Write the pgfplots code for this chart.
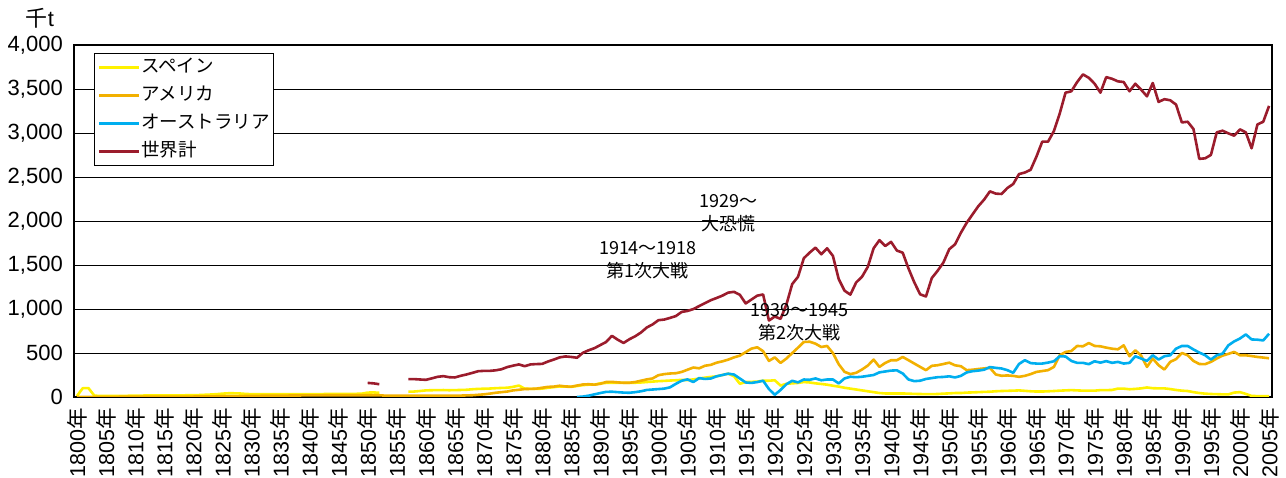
\documentclass[border=0pt]{standalone}
\usepackage{fontspec}
\setmainfont{Liberation Sans}
\newfontfamily\jp{Noto Sans CJK JP}
\usepackage{pgfplots}
\usepackage{pgfplotstable}
\pgfplotsset{compat=1.18}

\definecolor{cSpain}{RGB}{255,242,0}
\definecolor{cUSA}{RGB}{242,176,0}
\definecolor{cAus}{RGB}{0,174,239}
\definecolor{cWorld}{RGB}{155,28,44}

% lead production, thousand tonnes
\pgfplotstableread{
year spain usa aus world
1800 10 2 nan nan
1801 100 2 nan nan
1802 100 2 nan nan
1803 15 2 nan nan
1804 12 2 nan nan
1805 12 2 nan nan
1806 12 2 nan nan
1807 12 2 nan nan
1808 12 3 nan nan
1809 14 3 nan nan
1810 15 3 nan nan
1811 16 3 nan nan
1812 17 3 nan nan
1813 18 3 nan nan
1814 18 3 nan nan
1815 18 4 nan nan
1816 18 4 nan nan
1817 18 4 nan nan
1818 18 4 nan nan
1819 20 5 nan nan
1820 20 5 nan nan
1821 22 6 nan nan
1822 25 6 nan nan
1823 28 7 nan nan
1824 32 8 nan nan
1825 38 8 nan nan
1826 42 9 nan nan
1827 42 10 nan nan
1828 40 10 nan nan
1829 35 11 nan nan
1830 32 12 nan nan
1831 31 13 nan nan
1832 31 14 nan nan
1833 32 15 nan nan
1834 32 15 nan nan
1835 32 16 nan nan
1836 33 16 nan nan
1837 33 17 nan nan
1838 33 17 nan nan
1839 33 18 nan nan
1840 33 18 nan nan
1841 33 19 nan nan
1842 33 19 nan nan
1843 34 20 nan nan
1844 34 20 nan nan
1845 34 20 nan nan
1846 34 20 nan nan
1847 35 20 nan nan
1848 36 20 nan nan
1849 38 20 nan nan
1850 50 20 nan 160
1851 52 20 nan 155
1852 48 20 nan 145
1853 nan 15 nan nan
1854 nan 15 nan nan
1855 nan 15 nan nan
1856 nan 15 nan nan
1857 60 15 nan 203
1858 62 15 nan 203
1859 68 15 nan 199
1860 75 15 nan 195
1861 77 15 nan 211
1862 78 15 nan 229
1863 79 15 nan 237
1864 77 15 nan 225
1865 78 15 nan 222
1866 80 16 nan 241
1867 82 18 nan 256
1868 88 20 nan 274
1869 92 25 nan 293
1870 94 30 nan 297
1871 96 38 nan 297
1872 100 48 nan 303
1873 103 55 nan 315
1874 105 62 nan 340
1875 115 75 nan 356
1876 130 82 nan 370
1877 95 90 nan 350
1878 92 92 nan 370
1879 92 95 nan 374
1880 95 105 nan 376
1881 105 115 nan 403
1882 112 118 nan 425
1883 120 128 nan 450
1884 118 120 nan 461
1885 115 117 nan 455
1886 125 130 0 446
1887 135 142 5 502
1888 140 145 15 531
1889 140 140 30 555
1890 155 150 45 590
1891 160 170 58 625
1892 160 172 60 695
1893 160 166 55 651
1894 160 162 50 614
1895 160 162 48 656
1896 162 170 55 690
1897 165 185 65 733
1898 170 200 80 790
1899 175 211 85 825
1900 180 248 90 873
1901 183 260 95 880
1902 187 267 110 899
1903 190 270 150 920
1904 195 285 185 967
1905 192 310 200 978
1906 200 335 170 999
1907 210 326 215 1033
1908 220 355 205 1067
1909 228 365 210 1100
1910 235 390 235 1125
1911 250 405 250 1152
1912 265 425 265 1186
1913 235 450 255 1195
1914 150 470 210 1161
1915 170 510 165 1063
1916 172 550 160 1108
1917 175 565 170 1152
1918 185 520 185 1165
1919 185 410 90 869
1920 190 450 25 914
1921 130 387 80 888
1922 150 437 145 1050
1923 155 499 184 1283
1924 160 561 166 1366
1925 170 625 199 1577
1926 165 628 195 1641
1927 155 606 211 1697
1928 148 568 190 1622
1929 140 580 199 1690
1930 128 499 199 1603
1931 118 372 154 1340
1932 105 286 211 1208
1933 95 260 230 1163
1934 85 275 225 1302
1935 75 312 230 1366
1936 65 357 240 1479
1937 55 425 250 1690
1938 45 342 280 1782
1939 40 387 290 1716
1940 40 418 300 1763
1941 40 418 303 1664
1942 40 455 267 1640
1943 38 418 199 1460
1944 35 380 180 1302
1945 34 342 185 1167
1946 32 305 205 1142
1947 32 354 215 1351
1948 34 361 225 1434
1949 38 375 228 1528
1950 41 390 235 1679
1951 45 360 222 1735
1952 45 350 240 1866
1953 50 305 279 1979
1954 52 310 293 2074
1955 55 318 300 2168
1956 58 325 310 2243
1957 60 331 340 2337
1958 65 256 331 2311
1959 68 241 324 2307
1960 70 245 305 2375
1961 72 240 275 2420
1962 75 229 375 2533
1963 70 240 418 2551
1964 65 260 385 2582
1965 62 285 380 2732
1966 62 295 380 2902
1967 65 305 391 2902
1968 68 342 406 3022
1969 72 474 463 3221
1970 75 512 460 3458
1971 78 523 410 3474
1972 75 580 388 3579
1973 72 576 388 3666
1974 72 613 373 3627
1975 72 580 406 3560
1976 78 576 390 3458
1977 78 561 408 3635
1978 80 549 388 3616
1979 95 542 399 3587
1980 95 587 380 3579
1981 88 463 388 3474
1982 92 531 463 3560
1983 98 470 437 3492
1984 108 342 410 3417
1985 100 437 474 3568
1986 98 361 425 3353
1987 98 312 463 3384
1988 90 399 474 3372
1989 80 430 549 3323
1990 72 500 580 3120
1991 68 474 580 3128
1992 55 410 540 3045
1993 45 375 505 2706
1994 38 373 475 2712
1995 34 399 425 2751
1996 32 437 474 3007
1997 30 470 493 3026
1998 30 490 587 2996
1999 50 512 632 2969
2000 55 474 665 3041
2001 35 474 711 3007
2002 12 465 654 2826
2003 10 455 651 3097
2004 10 448 643 3128
2005 10 440 719 3308
}\leaddata

\begin{document}
\begin{tikzpicture}[x=1pt,y=1pt]
\useasboundingbox (0,0) rectangle (1286,478);
\begin{axis}[
  at={(74pt,81pt)}, anchor=south west,
  scale only axis, width=1198pt, height=352pt,
  xmin=1799.5, xmax=2005.5, ymin=0, ymax=4000,
  unbounded coords=jump,
  axis line style={black, line width=1.5pt},
  xtick={1800,1805,...,2005},
  xticklabel={\pgfmathtruncatemacro\yr{\tick}\yr{\jp 年}},
  xtick pos=bottom, major x tick style={draw=none},
  extra x ticks={1804.5,1809.5,...,2004.5},
  extra x tick labels={},
  extra x tick style={grid=none, major tick length=4pt, major x tick style={black, line width=1pt}},
  xticklabel style={rotate=90, anchor=east, inner sep=0pt,
    font=\fontsize{21.5}{24}\selectfont},
  xticklabel shift=11pt,
  ytick={0,500,...,4000},
  ymajorgrids, grid style={black, line width=0.8pt},
  ytick pos=left, major y tick style={draw=none},
  yticklabel style={anchor=east, inner sep=0pt,
    font=\fontsize{22}{24}\selectfont,
    /pgf/number format/1000 sep={,},
    /pgf/number format/assume math mode=true},
  yticklabel shift=11pt,
  every axis plot/.append style={line width=2.6pt, line join=round, no markers},
  legend cell align=left,
  legend image code/.code={\draw[#1] (0pt,0pt) -- (40pt,0pt);},
  legend style={at={(0.0167,0.977)}, anchor=north west,
    draw=black, line width=1pt, fill=white,
    font=\fontsize{18.5}{20}\selectfont,
    inner xsep=3pt, inner ysep=3pt, row sep=6pt,
    nodes={inner sep=1pt, text height=15pt, text depth=5pt},
    /tikz/every even column/.style={column sep=2pt}},
]
\addplot[cSpain] table[x=year, y=spain]{\leaddata};
\addlegendentry{\jp スペイン}
\addplot[cUSA] table[x=year, y=usa]{\leaddata};
\addlegendentry{\jp アメリカ}
\addplot[cAus] table[x=year, y=aus]{\leaddata};
\addlegendentry{\jp オーストラリア}
\addplot[cWorld] table[x=year, y=world]{\leaddata};
\addlegendentry{\jp 世界計}

\begin{scope}[font=\jp\fontsize{18}{20}\selectfont]
\node at (axis cs:1898.2,1693) {1914～1918};
\node at (axis cs:1898.2,1434) {第1次大戦};
\node at (axis cs:1912.0,2224) {1929～};
\node at (axis cs:1912.0,1965) {大恐慌};
\node at (axis cs:1924.3,982) {1939～1945};
\node at (axis cs:1924.3,734) {第2次大戦};
\end{scope}
\end{axis}
\node[font=\fontsize{22}{24}\selectfont] at (40,460) {{\jp 千}t};
\end{tikzpicture}
\end{document}
